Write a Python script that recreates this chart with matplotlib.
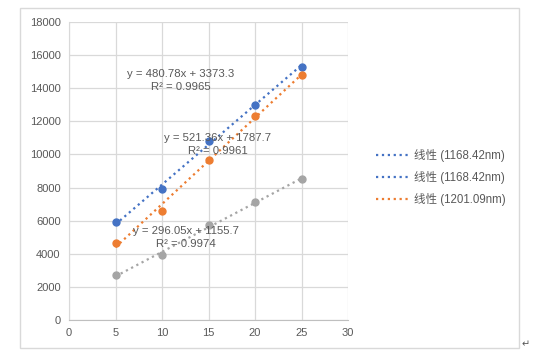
import numpy as np
import matplotlib
matplotlib.use('Agg')
from matplotlib import pyplot as plt
from matplotlib.lines import Line2D
from matplotlib.patches import Rectangle

plt.rcParams['font.family'] = ['Liberation Sans', 'Noto Sans CJK SC', 'DejaVu Sans']

# data
x = [5, 10, 15, 20, 25]
blue = [5900, 7900, 10800, 13000, 15300]
orange = [4670, 6560, 9660, 12300, 14800]
gray = [2700, 3900, 5750, 7100, 8520]

slopes = [480.78, 521.36, 296.05]
intercepts = [3373.3, 1787.7, 1155.7]
r2 = ['0.9965', '0.9961', '0.9974']
eq_pos = [(12.05, 14460), (16.0, 10600), (12.6, 4980)]
legend_labels = ['线性 (1168.42nm)', '线性 (1168.42nm)', '线性 (1201.09nm)']

c_blue = '#4472C4'
c_orange = '#ED7D31'
c_gray = '#A5A5A5'
txt = '#595959'

fig = plt.figure(figsize=(5.37, 3.58), dpi=100)
fig.patches.append(Rectangle((20 / 537, 1 - 348 / 358), 499 / 537, 340 / 358,
                             transform=fig.transFigure, fill=False,
                             edgecolor='#D9D9D9', linewidth=1))
ax = fig.add_axes([69 / 537, 1 - 320 / 358, 279 / 537, 298 / 358])

series = [blue, orange, gray]
colors = [c_blue, c_orange, c_gray]
xs = np.array([5, 25])
for ys, col, m, b in zip(series, colors, slopes, intercepts):
    ax.plot(xs, m * xs + b, linestyle=':', color=col, linewidth=1.6, zorder=2)
    ax.plot(x, ys, 'o', color=col, markersize=5, zorder=3)

for (px, py), m, b, r in zip(eq_pos, slopes, intercepts, r2):
    ax.text(px, py, 'y = {}x + {}\nR² = {}'.format(m, b, r), ha='center', va='center',
            fontsize=8.2, color=txt, linespacing=1.45, zorder=4)

ax.set_xlim(0, 30)
ax.set_ylim(0, 18000)
ax.set_xticks(range(0, 31, 5))
ax.set_yticks(range(0, 18001, 2000))
ax.grid(True, color='#D9D9D9', linewidth=0.9)
ax.set_axisbelow(True)
ax.tick_params(length=0, labelsize=8, labelcolor=txt, pad=6)
for s in ['top', 'right']:
    ax.spines[s].set_visible(False)
ax.spines['left'].set_color('#D9D9D9')
ax.spines['bottom'].set_color('#BFBFBF')

handles = [Line2D([], [], linestyle=':', color=c, linewidth=1.6) for c in [c_blue, c_blue, c_orange]]
fig.legend(handles, legend_labels, loc='center left', bbox_to_anchor=(366 / 537, 1 - 177.5 / 358),
           frameon=False, fontsize=8.3, labelcolor=txt, handlelength=2.7, handletextpad=0.6,
           labelspacing=0.75)

fig.text(522 / 537, 1 - 344 / 358, '↵', fontsize=7, color='#555555', ha='left', va='center',
         family=['DejaVu Sans'])

fig.savefig('out.png', dpi=100)
